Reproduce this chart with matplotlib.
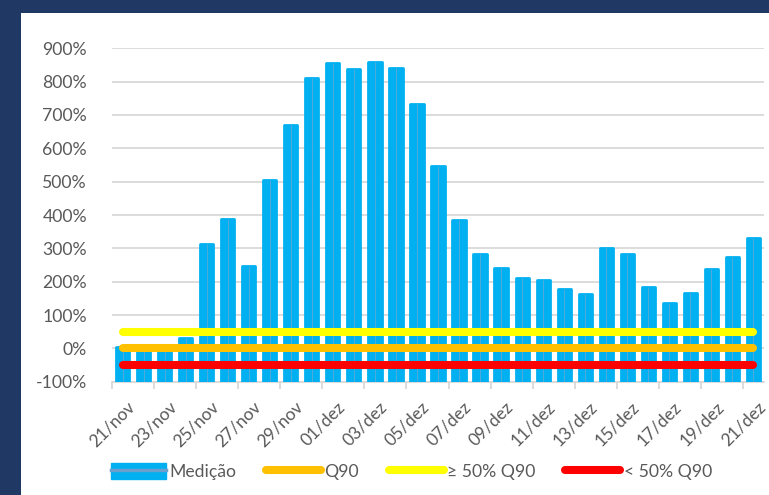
import matplotlib.pyplot as plt
import matplotlib.transforms as mtransforms
from matplotlib.patches import Rectangle, Patch
from matplotlib.lines import Line2D
from matplotlib.legend_handler import HandlerTuple

# data
dates = ['21/nov', '22/nov', '23/nov', '24/nov', '25/nov', '26/nov', '27/nov', '28/nov',
         '29/nov', '30/nov', '01/dez', '02/dez', '03/dez', '04/dez', '05/dez', '06/dez',
         '07/dez', '08/dez', '09/dez', '10/dez', '11/dez', '12/dez', '13/dez', '14/dez',
         '15/dez', '16/dez', '17/dez', '18/dez', '19/dez', '20/dez', '21/dez']
medicao = [4, 2, 1, 32, 314, 387, 247, 505, 670, 810, 856, 838, 858, 840, 732, 547,
           384, 282, 240, 210, 204, 178, 162, 300, 282, 184, 136, 165, 238, 274, 331]
q90 = 0
q90_50_up = 50
q90_50_low = -50
yticks = list(range(-100, 1000, 100))

plt.rcParams['font.family'] = ['Lato', 'DejaVu Sans']
txt = '#595959'
blue = '#00B0F0'
grid = '#D9D9D9'

fig = plt.figure(figsize=(7.69, 4.95), dpi=100, facecolor='#1F3864')
fig.patches.append(Rectangle((21 / 769, 0), 1, 1 - 13 / 495, transform=fig.transFigure,
                             facecolor='white', edgecolor='none', zorder=-10))

ax = fig.add_axes([112 / 769, 113.3 / 495, 652 / 769, 333.4 / 495])
ax.set_facecolor('none')

x = list(range(len(dates)))
bars = ax.bar(x, [v + 100 for v in medicao], bottom=-100, width=0.63, color=blue,
              edgecolor=blue, linewidth=2.0, zorder=3)
for b in bars:
    b.set_joinstyle('round')
ax.vlines(x, -100, medicao, color='#5FA8D8', linewidth=0.6, zorder=4)

n = len(x)
ax.plot([0, n - 1], [q90_50_up] * 2, color='#FFFF00', lw=5.8, solid_capstyle='round', zorder=5)
ax.plot([0, n - 1], [q90] * 2, color='#FFC000', lw=5.8, solid_capstyle='round', zorder=5)
ax.plot([0, n - 1], [q90_50_low] * 2, color='#FF0000', lw=5.8, solid_capstyle='round', zorder=5)

ax.set_xlim(-0.5, n - 0.5)
ax.set_ylim(-100, 900)
ax.set_yticks(yticks)
ax.set_yticklabels([f'{v}%' for v in yticks], color=txt, fontsize=12.7)
ax.tick_params(axis='y', length=0, pad=18)
ax.yaxis.grid(True, color=grid, linewidth=1.3, zorder=0)
ax.set_axisbelow(True)

ax.set_xticks(x[::2])
ax.set_xticklabels(dates[::2], rotation=45, ha='right', rotation_mode='anchor',
                   color=txt, fontsize=12.5)
ax.tick_params(axis='x', which='major', length=0, pad=12)
shift = mtransforms.ScaledTranslation(4 / 100, 0, fig.dpi_scale_trans)
for lab in ax.get_xticklabels():
    lab.set_transform(lab.get_transform() + shift)
ax.set_xticks([i - 0.5 for i in range(0, n + 1, 2)], minor=True)
ax.tick_params(axis='x', which='minor', length=5, color=grid, width=1.3)

for s in ['top', 'right', 'left']:
    ax.spines[s].set_visible(False)
ax.spines['bottom'].set_color(grid)
ax.spines['bottom'].set_linewidth(1.3)
ax.spines['bottom'].set_zorder(2)

h_med = (Patch(facecolor=blue, edgecolor=blue, joinstyle='round'),
         Line2D([], [], color='#6A9FD0', lw=2.5))
h_q90 = Line2D([], [], color='#FFC000', lw=5.8, solid_capstyle='round')
h_up = Line2D([], [], color='#FFFF00', lw=5.8, solid_capstyle='round')
h_low = Line2D([], [], color='#FF0000', lw=5.8, solid_capstyle='round')
leg = fig.legend([h_med, h_q90, h_up, h_low], ['Medição', 'Q90', '≥ 50% Q90', '< 50% Q90'],
                 loc='center', bbox_to_anchor=(0.535, 0.048), ncol=4, frameon=False,
                 fontsize=12.7, handlelength=3.1, handleheight=1.1, handletextpad=0.2,
                 columnspacing=1.7, labelcolor=txt,
                 handler_map={tuple: HandlerTuple(ndivide=1, pad=0)})

fig.savefig('out.png', dpi=100, facecolor=fig.get_facecolor())
